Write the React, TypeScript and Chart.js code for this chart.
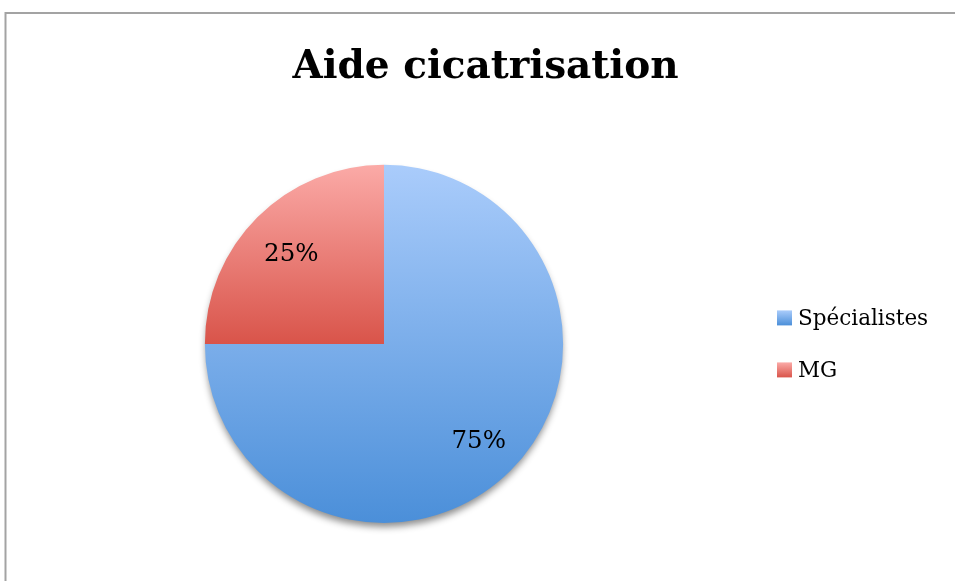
import React, { useEffect, useRef } from "react";
import { Chart, registerables, layouts } from "chart.js";

Chart.register(...registerables);

const chartTitle = "Aide cicatrisation";
const categories = ["Spécialistes", "MG"];
const shares = [75, 25];
const gradientTop = ["#AACCFB", "#FBAAA7"];
const gradientBottom = ["#4B8FD9", "#D9544A"];

const FONT = "'DejaVu Serif', 'Liberation Serif', serif";

function sectorAngles(i: number): [number, number] {
  const total = shares.reduce((a, b) => a + b, 0);
  let before = 0;
  for (let k = 0; k < i; k++) before += shares[k];
  const a0 = -Math.PI / 2 + (2 * Math.PI * before) / total;
  const a1 = a0 + (2 * Math.PI * shares[i]) / total;
  return [a0, a1];
}

function sectorYExtent(cy: number, r: number, a0: number, a1: number): [number, number] {
  const ys = [cy, cy + r * Math.sin(a0), cy + r * Math.sin(a1)];
  for (let k = -2; k <= 4; k++) {
    const a = -Math.PI / 2 + k * Math.PI;
    if (a >= a0 && a <= a1) ys.push(cy + r * Math.sin(a));
  }
  return [Math.min(...ys), Math.max(...ys)];
}

const borderPlugin = {
  id: "frameBorder",
  beforeDraw(chart: any) {
    const ctx = chart.ctx;
    ctx.save();
    ctx.fillStyle = "#ffffff";
    ctx.fillRect(0, 0, chart.width, chart.height);
    ctx.strokeStyle = "#A3A3A3";
    ctx.lineWidth = 2;
    ctx.beginPath();
    ctx.moveTo(5.5, chart.height + 2);
    ctx.lineTo(5.5, 13);
    ctx.lineTo(chart.width + 2, 13);
    ctx.stroke();
    ctx.restore();
  },
};

const shadowPlugin = {
  id: "pieShadow",
  beforeDatasetsDraw(chart: any) {
    const meta = chart.getDatasetMeta(0);
    const arc = meta.data[0];
    if (!arc) return;
    const { x, y, outerRadius } = arc.getProps(["x", "y", "outerRadius"], true);
    const ctx = chart.ctx;
    ctx.save();
    ctx.shadowColor = "rgba(0,0,0,0.45)";
    ctx.shadowBlur = 7;
    ctx.shadowOffsetX = 0;
    ctx.shadowOffsetY = 5;
    ctx.fillStyle = "#5C97D9";
    ctx.beginPath();
    ctx.arc(x, y, outerRadius - 1, 0, Math.PI * 2);
    ctx.fill();
    ctx.restore();
  },
};

const labelPlugin = {
  id: "pctLabels",
  afterDatasetsDraw(chart: any) {
    const meta = chart.getDatasetMeta(0);
    const ctx = chart.ctx;
    const total = shares.reduce((a, b) => a + b, 0);
    ctx.save();
    ctx.font = `24.5px ${FONT}`;
    ctx.fillStyle = "#000000";
    ctx.textAlign = "center";
    ctx.textBaseline = "middle";
    meta.data.forEach((arc: any, i: number) => {
      const { x, y, startAngle, endAngle, outerRadius } = arc.getProps(
        ["x", "y", "startAngle", "endAngle", "outerRadius"],
        true
      );
      const mid = (startAngle + endAngle) / 2;
      const rr = outerRadius * 0.74;
      const pct = Math.round((shares[i] / total) * 100) + "%";
      ctx.fillText(pct, x + rr * Math.cos(mid) + 1, y + rr * Math.sin(mid) + 4);
    });
    ctx.restore();
  },
};

const sideLegendPlugin = {
  id: "sideLegend",
  beforeInit(chart: any) {
    const box: any = {
      position: "right",
      weight: 0,
      fullSize: false,
      options: {},
      left: 0,
      top: 0,
      right: 0,
      bottom: 0,
      width: 0,
      height: 0,
      isHorizontal() {
        return false;
      },
      update(maxWidth: number, maxHeight: number) {
        box.width = 203;
        box.height = maxHeight;
      },
      draw() {
        const ctx = chart.ctx;
        const cy = box.top + box.height / 2;
        const step = 52;
        const n = categories.length;
        ctx.save();
        ctx.font = `21.5px ${FONT}`;
        ctx.textBaseline = "middle";
        ctx.textAlign = "left";
        categories.forEach((label, i) => {
          const yc = cy + (i - (n - 1) / 2) * step;
          const bx = box.left + 25;
          const size = 15;
          const g = ctx.createLinearGradient(0, yc - size / 2, 0, yc + size / 2);
          g.addColorStop(0, gradientTop[i]);
          g.addColorStop(1, gradientBottom[i]);
          ctx.fillStyle = g;
          ctx.fillRect(bx, yc - size / 2, size, size);
          ctx.fillStyle = "#000000";
          ctx.fillText(label, bx + 21, yc + 2);
        });
        ctx.restore();
      },
    };
    layouts.addBox(chart, box);
  },
};

function sliceFill(c: any) {
  const i = c.dataIndex ?? 0;
  const chart = c.chart;
  const ca = chart.chartArea;
  if (!ca) return gradientBottom[i];
  const cy = (ca.top + ca.bottom) / 2;
  const r = Math.min(ca.right - ca.left, ca.bottom - ca.top) / 2;
  const [a0, a1] = sectorAngles(i);
  const [y0, y1] = sectorYExtent(cy, r, a0, a1);
  const g = chart.ctx.createLinearGradient(0, y0, 0, y1);
  g.addColorStop(0, gradientTop[i]);
  g.addColorStop(1, gradientBottom[i]);
  return g;
}

export default function App() {
  const ref = useRef<HTMLCanvasElement | null>(null);
  useEffect(() => {
    if (!ref.current) return;
    const chart = new Chart(ref.current, {
      type: "pie",
      data: {
        labels: categories,
        datasets: [
          {
            data: shares,
            backgroundColor: sliceFill as any,
            borderWidth: 0,
            hoverOffset: 0,
            offset: 0,
          },
        ],
      },
      options: {
        animation: false,
        responsive: false,
        events: [],
        layout: { padding: { left: 16, right: 0, top: 0, bottom: 58 } },
        plugins: {
          legend: { display: false },
          tooltip: { enabled: false },
          title: {
            display: true,
            text: chartTitle,
            color: "#000000",
            font: { family: FONT, size: 39, weight: "bold", lineHeight: 1.2 },
            padding: { top: 44, bottom: 74 },
          },
        },
      } as any,
      plugins: [borderPlugin, sideLegendPlugin, shadowPlugin, labelPlugin],
    });
    return () => chart.destroy();
  }, []);
  return (
    <div style={{ position: "absolute", left: 0, top: 0, width: 955, height: 581 }}>
      <canvas ref={ref} width={955} height={581} style={{ width: 955, height: 581, display: "block" }} />
    </div>
  );
}
